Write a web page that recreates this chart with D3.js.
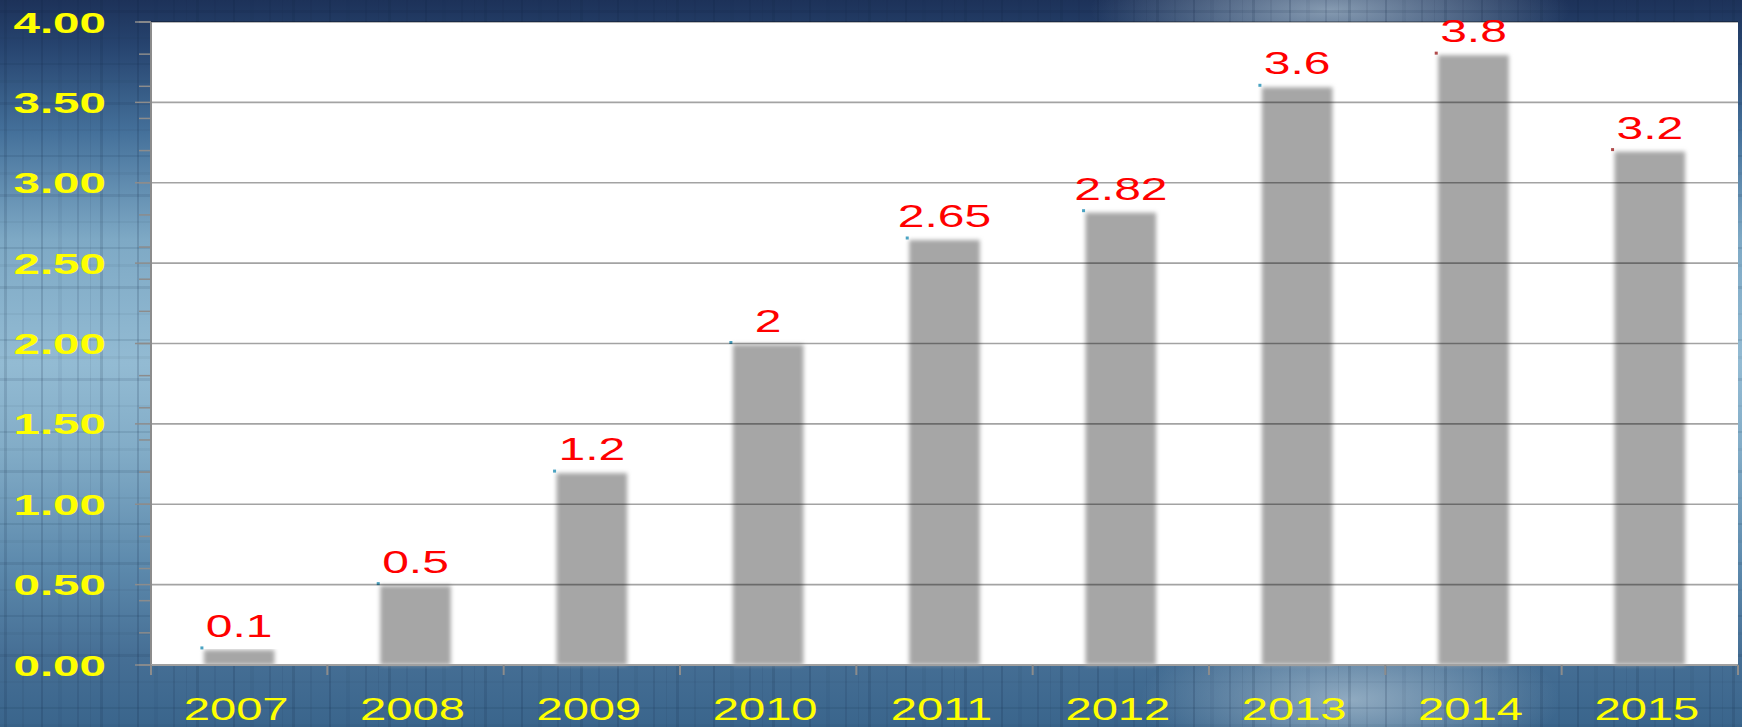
<!DOCTYPE html>
<html>
<head>
<meta charset="utf-8">
<script src="https://cdn.jsdelivr.net/npm/d3@7"></script>
<style>
  html, body { margin: 0; padding: 0; background: #2b4a75; }
  svg { display: block; }
</style>
</head>
<body>
<div id="chart"></div>
<script>
// data
const years = ['2007', '2008', '2009', '2010', '2011', '2012', '2013', '2014', '2015']
const values = [0.1, 0.5, 1.2, 2, 2.65, 2.82, 3.6, 3.8, 3.2]
const valueLabels = ['0.1', '0.5', '1.2', '2', '2.65', '2.82', '3.6', '3.8', '3.2']
const yTicks = [0, 0.5, 1, 1.5, 2, 2.5, 3, 3.5, 4]
const yMinorTicks = d3.range(0, 4.01, 0.2)

const outerWidth = 1742
const outerHeight = 727
const margin = { top: 22, right: 4, bottom: 62, left: 151 }
const width = outerWidth - margin.left - margin.right
const height = outerHeight - margin.top - margin.bottom

const svg = d3.select('#chart')
  .append('svg')
  .attr('width', outerWidth)
  .attr('height', outerHeight)

const defs = svg.append('defs')

// background gradient
let bg = defs.append('linearGradient')
  .attr('id', 'bg')
  .attr('x1', 0).attr('y1', 0).attr('x2', 0).attr('y2', 1)
const bgStops = [
  [0, '#1d3259'], [0.06, '#26436e'], [0.18, '#44709a'], [0.33, '#7ea9c5'],
  [0.5, '#93bbd3'], [0.62, '#82acc7'], [0.78, '#5c89ac'], [0.9, '#466f95'], [1, '#3a658c']
]
bg.selectAll('stop').data(bgStops).enter().append('stop')
  .attr('offset', (d) => d[0])
  .attr('stop-color', (d) => d[1])

let glow = defs.append('radialGradient').attr('id', 'glow')
glow.append('stop').attr('offset', 0).attr('stop-color', '#b3c7d6').attr('stop-opacity', 0.7)
glow.append('stop').attr('offset', 1).attr('stop-color', '#b3c7d6').attr('stop-opacity', 0)

// faint grid texture in the background
let vpat = defs.append('pattern')
  .attr('id', 'vlines')
  .attr('patternUnits', 'userSpaceOnUse')
  .attr('width', 96).attr('height', 727)
;[[4, 0.14, 3], [22, 0.07, 2], [41, 0.16, 2], [58, 0.06, 4], [77, 0.12, 2], [90, 0.07, 1]].forEach((l) => {
  vpat.append('rect').attr('x', l[0]).attr('y', 0).attr('width', l[2]).attr('height', 727)
    .attr('fill', '#0d2240').attr('opacity', l[1])
})
let hpat = defs.append('pattern')
  .attr('id', 'hlines')
  .attr('patternUnits', 'userSpaceOnUse')
  .attr('width', 1742).attr('height', 92)
;[[10, 0.1, 3], [37, 0.05, 2], [63, 0.11, 2], [80, 0.05, 3]].forEach((l) => {
  hpat.append('rect').attr('x', 0).attr('y', l[0]).attr('width', 1742).attr('height', l[2])
    .attr('fill', '#0d2240').attr('opacity', l[1])
})

let blur = defs.append('filter').attr('id', 'soft')
  .attr('x', '-20%').attr('y', '-5%').attr('width', '140%').attr('height', '110%')
blur.append('feGaussianBlur').attr('stdDeviation', 2.2)

svg.append('rect').attr('width', outerWidth).attr('height', outerHeight).attr('fill', 'url(#bg)')
svg.append('ellipse').attr('cx', 1330).attr('cy', 10).attr('rx', 240).attr('ry', 60).attr('fill', 'url(#glow)')
svg.append('ellipse').attr('cx', 1350).attr('cy', 700).attr('rx', 210).attr('ry', 75).attr('fill', 'url(#glow)')
svg.append('rect').attr('width', outerWidth).attr('height', outerHeight).attr('fill', 'url(#vlines)')
svg.append('rect').attr('width', outerWidth).attr('height', outerHeight).attr('fill', 'url(#hlines)')

const g = svg.append('g')
  .attr('transform', `translate(${margin.left},${margin.top})`)

// scales
let xs = d3.scaleBand()
  .domain(years)
  .range([0, width])
  .paddingInner(0.6)
  .paddingOuter(0.3)
let ys = d3.scaleLinear()
  .domain([0, 4])
  .range([height, 0])

// plot area
g.append('rect')
  .attr('x', 0).attr('y', 0)
  .attr('width', width).attr('height', height)
  .attr('fill', '#fff')

// bars
g.selectAll('.bar')
  .data(values)
  .enter()
  .append('rect')
  .attr('class', 'bar')
  .attr('x', (d, i) => xs(years[i]))
  .attr('y', (d) => ys(d) + 1)
  .attr('width', xs.bandwidth())
  .attr('height', (d) => height - ys(d) - 1)
  .attr('fill', '#a6a6a6')
  .attr('filter', 'url(#soft)')

// little marker squares at the bar corners
g.selectAll('.mark')
  .data(values)
  .enter()
  .append('rect')
  .attr('x', (d, i) => xs(years[i]) - 3.5)
  .attr('y', (d) => ys(d) - 2.5)
  .attr('width', 3)
  .attr('height', 3)
  .attr('fill', (d, i) => i >= 7 ? '#b04a4a' : '#4aa3c2')

// gridlines (drawn on top, semi transparent)
g.selectAll('.grid')
  .data(yTicks.slice(1))
  .enter()
  .append('line')
  .attr('x1', 0).attr('x2', width)
  .attr('y1', (d) => ys(d)).attr('y2', (d) => ys(d))
  .attr('stroke', '#000')
  .attr('stroke-opacity', 0.36)
  .attr('stroke-width', 1.6)

// y axis: major and minor ticks
let yAxis = g.append('g')
yAxis.append('line')
  .attr('x1', 0).attr('x2', 0).attr('y1', 0).attr('y2', height + 10)
  .attr('stroke', '#8c8c8c').attr('stroke-width', 2)
yAxis.selectAll('.minor')
  .data(yMinorTicks)
  .enter()
  .append('line')
  .attr('x1', -12).attr('x2', 0)
  .attr('y1', (d) => ys(d)).attr('y2', (d) => ys(d))
  .attr('stroke', '#8c8c8c').attr('stroke-width', 1.5)
yAxis.selectAll('.major')
  .data(yTicks)
  .enter()
  .append('line')
  .attr('x1', -16).attr('x2', 0)
  .attr('y1', (d) => ys(d)).attr('y2', (d) => ys(d))
  .attr('stroke', '#8c8c8c').attr('stroke-width', 1.5)
yAxis.selectAll('.ylab')
  .data(yTicks)
  .enter()
  .append('text')
  .attr('transform', (d) => `translate(${-45},${ys(d) + 10.5}) scale(1.64,1)`)
  .attr('text-anchor', 'end')
  .attr('font-family', '"Liberation Sans", Arial, sans-serif')
  .attr('font-weight', 'bold')
  .attr('font-size', 29)
  .attr('fill', '#ffff00')
  .text((d) => d3.format('.2f')(d))

// x axis
let xAxis = g.append('g').attr('transform', `translate(0,${height})`)
xAxis.append('line')
  .attr('x1', 0).attr('x2', width)
  .attr('stroke', '#a0a0a0').attr('stroke-width', 2)
xAxis.selectAll('.xtick')
  .data(d3.range(years.length + 1))
  .enter()
  .append('line')
  .attr('x1', (d) => d * xs.step()).attr('x2', (d) => d * xs.step())
  .attr('y1', 0).attr('y2', 10)
  .attr('stroke', '#8c8c8c').attr('stroke-width', 2)
xAxis.selectAll('.xlab')
  .data(years)
  .enter()
  .append('text')
  .attr('transform', (d) => `translate(${xs(d) + xs.bandwidth() / 2 - 3},55) scale(1.52,1)`)
  .attr('text-anchor', 'middle')
  .attr('font-family', '"Liberation Sans", Arial, sans-serif')
  .attr('font-size', 31)
  .attr('fill', '#ffff00')
  .text((d) => d)

// value labels
g.selectAll('.vlab')
  .data(values)
  .enter()
  .append('text')
  .attr('transform', (d, i) => `translate(${xs(years[i]) + xs.bandwidth() / 2},${ys(d) - 12}) scale(1.5,1)`)
  .attr('text-anchor', 'middle')
  .attr('font-family', '"Liberation Sans", Arial, sans-serif')
  .attr('font-size', 32)
  .attr('fill', '#ff0000')
  .text((d, i) => valueLabels[i])
</script>
</body>
</html>
